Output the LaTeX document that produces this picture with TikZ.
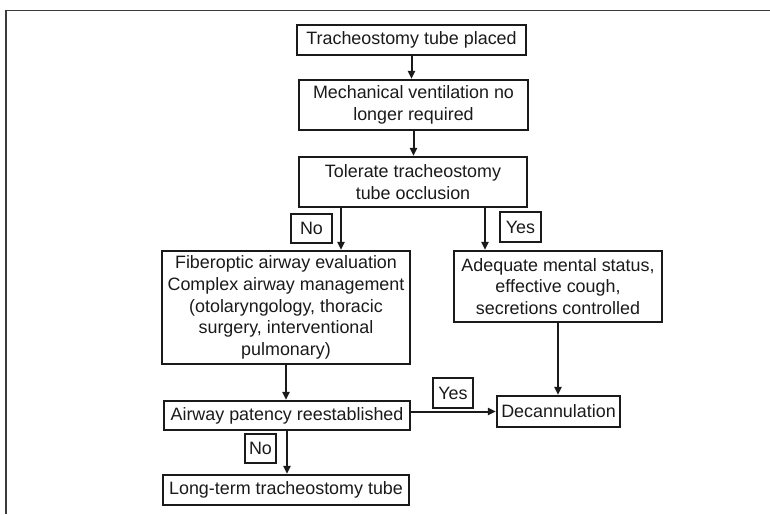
\documentclass[tikz,border=0pt]{standalone}
\usepackage{fontspec}
\setmainfont{Liberation Sans}
\usetikzlibrary{arrows.meta}
\definecolor{ink}{HTML}{1A1A1A}
\begin{document}
\begin{tikzpicture}[x=1pt,y=1pt,
  box/.style={draw=ink,line width=2.1pt,inner sep=0pt,align=center,text=ink,
    font=\fontsize{17.9pt}{21.6pt}\selectfont},
  lbl/.style={box},
  conn/.style={draw=ink,line width=2pt},
  arr/.style={conn,-{Triangle[length=8pt,width=7pt]}},
  frameline/.style={draw=ink!85,line width=1.5pt}]
\useasboundingbox (0,0) rectangle (770,-514);
\draw[frameline] (770,-10.5) -- (6,-10.5) -- (6,-514);
\node[box,minimum width=229pt,minimum height=30pt] (b1) at (411.5,-40) {Tracheostomy tube placed};
\node[box,minimum width=229pt,minimum height=50pt] (b2) at (413.5,-105) {Mechanical ventilation no\\longer required};
\node[box,minimum width=228pt,minimum height=50pt] (b3) at (413,-182) {Tolerate tracheostomy\\tube occlusion};
\node[box,minimum width=248pt,minimum height=113pt] (b4) at (286,-307.5) {Fiberoptic airway evaluation\\Complex airway management\\(otolaryngology, thoracic\\surgery, interventional\\pulmonary)};
\node[box,minimum width=208pt,minimum height=71pt] (b5) at (558,-286.5) {Adequate mental status,\\effective cough,\\secretions controlled};
\node[box,minimum width=246pt,minimum height=29pt] (b6) at (287,-415.5) {Airway patency reestablished};
\node[box,minimum width=123pt,minimum height=31pt] (dec) at (558.5,-411.5) {Decannulation};
\node[box,minimum width=246pt,minimum height=30pt] (b7) at (286,-490) {Long-term tracheostomy tube};
\node[lbl,minimum width=41pt,minimum height=29pt] (no1) at (311.5,-228.5) {No};
\node[lbl,minimum width=41pt,minimum height=30pt] (yes1) at (520.5,-227) {Yes};
\node[lbl,minimum width=40pt,minimum height=30pt] (yes2) at (453,-393) {Yes};
\node[lbl,minimum width=31pt,minimum height=29pt] (no2) at (260.5,-448.5) {No};
\draw[arr] (b1.south) -- (b1.south |- b2.north);
\draw[arr] (b2.south) -- (b2.south |- b3.north);
\draw[arr] ([xshift=-72pt]b3.south) -- ([xshift=-72pt]b3.south |- b4.north);
\draw[arr] ([xshift=72pt]b3.south) -- ([xshift=72pt]b3.south |- b5.north);
\draw[arr] (b4.south) -- (b4.south |- b6.north);
\draw[arr] (b6.south) -- (b6.south |- b7.north);
\draw[arr] (dec.west -| b6.east) -- (dec.west);
\draw[arr] (b5.south) -- (b5.south |- dec.north);
\end{tikzpicture}
\end{document}
